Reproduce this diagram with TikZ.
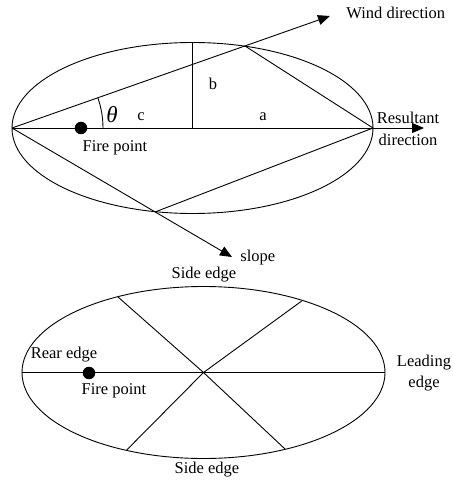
\documentclass[tikz,border=0pt]{standalone}
\usepackage{fontspec}
\setmainfont{Liberation Serif}
\usetikzlibrary{arrows.meta, positioning}

\begin{document}
\begin{tikzpicture}[
        x=1pt, y=-1pt,
        >={Triangle[length=12pt, width=10pt]},
        line width=0.9pt,
        lab/.style={font=\fontsize{16.5}{21.5}\selectfont, inner sep=0pt, align=center},
        firedot/.style={circle, fill, minimum size=12.5pt, inner sep=0pt}
    ]
\useasboundingbox (0,0) rectangle (452,481);

% upper ellipse
\coordinate (O1) at (192.5,128);
\coordinate (L1) at (12,128);
\coordinate (R1) at (373,128);
\coordinate (T1) at (192.5,42.5);
\coordinate (P) at (245,46);
\coordinate (Q) at (155,212);
\coordinate (W) at (330,16);
\coordinate (S) at (232,257);
\coordinate (D) at (424,128);
\draw (O1) ellipse [x radius=180.5, y radius=85.5];
\draw (L1) -- (R1);
\draw (O1) -- (T1);
\draw[->] (L1) -- (W);
\draw[->] (L1) -- (S);
\draw (P) -- (R1) -- (Q);
\draw[->] (R1) -- (D);
\draw ([shift={(91,0)}]L1) arc[start angle=0, end angle=-19.4, radius=91];
\node[firedot] (fire1) at (81,128) {};

\node[lab, font=\fontsize{23}{26}\selectfont\itshape] (theta) at (112,115) {θ};
\node[lab, anchor=west] (wind) at (346,13) {Wind direction};
\node[lab] (c) at (141,117) {c};
\node[lab] (b) at (213,84) {b};
\node[lab] (a) at (263,117) {a};
\node[lab] (fp1) at (115,148) {Fire point};
\node[lab] (res) at (408,129) {Resultant\\direction};
\node[lab, anchor=west] (slope) at (240,258) {slope};

% lower ellipse
\coordinate (O2) at (203.5,372.5);
\coordinate (L2) at (22,372.5);
\coordinate (R2) at (385,372.5);
\coordinate (A) at (118,297);
\coordinate (B) at (285,449);
\coordinate (C) at (301.7,301);
\coordinate (E) at (126.7,450);
\draw (O2) ellipse [x radius=181.5, y radius=86];
\draw (L2) -- (R2);
\draw (A) -- (O2) -- (B);
\draw (C) -- (O2) -- (E);
\node[firedot] (fire2) at (89,373) {};

\node[lab] (side1) at (204,275) {Side edge};
\node[lab] (side2) at (207,470) {Side edge};
\node[lab] (rear) at (64,355) {Rear edge};
\node[lab] (fp2) at (114,391) {Fire point};
\node[lab] (lead) at (424,373) {Leading\\edge};
\end{tikzpicture}
\end{document}
